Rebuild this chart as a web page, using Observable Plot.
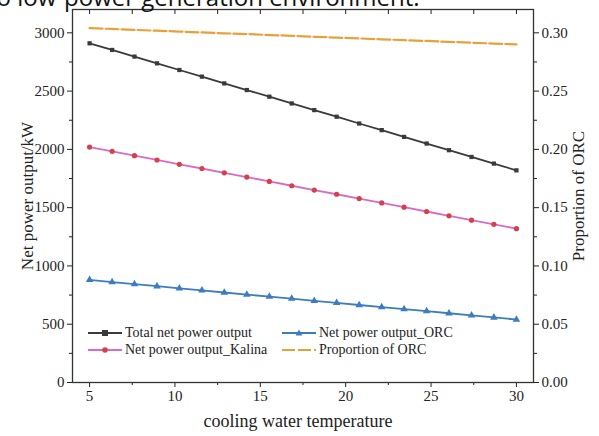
<!DOCTYPE html>
<html>
<head>
<meta charset="utf-8">
<script src="https://cdn.jsdelivr.net/npm/d3@7"></script>
<script src="https://cdn.jsdelivr.net/npm/@observablehq/plot@0.6"></script>
<style>
  html, body { margin: 0; padding: 0; background: #fff; }
  #wrap { position: relative; width: 599px; height: 436px; overflow: hidden; }
  #wrap svg text { font-family: "Liberation Serif", "Times New Roman", serif; }
  #legend { position: absolute; left: 88px; top: 325px; font-family: "Liberation Serif", serif; font-size: 14px; color: #222;
            display: grid; grid-template-columns: 194px 200px; row-gap: 0px; }
  #legend .item { display: flex; align-items: center; height: 16.5px; white-space: nowrap; }
  #legend svg { margin-right: 3px; }
  #doc { position: absolute; left: 0; top: 0; }
  #wrap #doc text { font-family: "Open Sans", sans-serif; }
</style>
</head>
<body>
<div id="wrap"></div>
<script>
// ---- data ----
const temperature = [5, 6.32, 7.63, 8.95, 10.26, 11.58, 12.89, 14.21, 15.53, 16.84, 18.16, 19.47, 20.79, 22.11, 23.42, 24.74, 26.05, 27.37, 28.68, 30];
const totalNet = [2910, 2853, 2796, 2738, 2681, 2624, 2566, 2509, 2452, 2394, 2337, 2280, 2222, 2165, 2107, 2050, 1993, 1935, 1878, 1820];
const kalinaNet = [2020, 1983, 1946, 1909, 1872, 1836, 1799, 1762, 1725, 1688, 1651, 1615, 1578, 1541, 1504, 1467, 1430, 1393, 1357, 1320];
const orcNet = [880, 862, 844, 826, 808, 790, 772, 754, 737, 719, 701, 683, 665, 647, 629, 612, 594, 576, 558, 540];
const orcProportion = [0.3040, 0.3033, 0.3025, 0.3018, 0.3011, 0.3003, 0.2996, 0.2989, 0.2981, 0.2974, 0.2966, 0.2959, 0.2952, 0.2944, 0.2937, 0.2930, 0.2922, 0.2915, 0.2908, 0.2900];

const xTicks = [5, 10, 15, 20, 25, 30];
const xMinor = [7.5, 12.5, 17.5, 22.5, 27.5];
const yTicks = [0, 500, 1000, 1500, 2000, 2500, 3000];
const yMinor = [250, 750, 1250, 1750, 2250, 2750];
const rightTicks = [0, 0.05, 0.10, 0.15, 0.20, 0.25, 0.30];
const rightMinor = [0.025, 0.075, 0.125, 0.175, 0.225, 0.275];
const seriesNames = ["Total net power output", "Net power output_ORC", "Net power output_Kalina", "Proportion of ORC"];
const xLabel = "cooling water temperature";
const yLabel = "Net power output/kW";
const y2Label = "Proportion of ORC";

const RATIO = 10000; // right axis value * RATIO = left axis units
const colors = {
  total: "#3a3a3a",
  kalinaLine: "#d86ac6",
  kalinaDot: "#d6404a",
  orc: "#3c7cc0",
  prop: "#e6a23a"
};

const rows = temperature.map((t, i) => ({
  t, total: totalNet[i], kalina: kalinaNet[i], orc: orcNet[i], prop: orcProportion[i] * RATIO
}));

const font = "Liberation Serif, Times New Roman, serif";
const axisStyle = { fontFamily: font, fontSize: 15, fontVariant: "normal" };
const titleStyle = { fontFamily: font, fill: "#222", textAnchor: "middle", lineAnchor: "middle" };

const chart = Plot.plot({
  width: 599,
  height: 436,
  marginLeft: 72,
  marginRight: 66,
  marginTop: 9,
  marginBottom: 54,
  style: { fontFamily: font, fontSize: "15px", color: "#222", background: "transparent" },
  x: { domain: [4, 31] },
  y: { domain: [0, 3200] },
  marks: [
    // axes
    Plot.axisX({ ticks: xTicks, tickSize: 5, tickPadding: 3, tickFormat: d => String(d), label: null, ...axisStyle }),
    Plot.axisX({ ticks: xMinor, tickSize: 3, tickFormat: () => "", label: null }),
    Plot.axisX({ anchor: "top", ticks: xTicks.concat(xMinor), tickSize: -4, tickFormat: () => "", label: null }),
    Plot.axisY({ ticks: yTicks, tickSize: 5, tickPadding: 3, tickFormat: d => String(d), label: null, ...axisStyle }),
    Plot.axisY({ ticks: yMinor, tickSize: 3, tickFormat: () => "", label: null }),
    Plot.axisY({ anchor: "right", ticks: rightTicks.map(v => v * RATIO), tickSize: 5, tickPadding: 3,
                 tickFormat: d => (d / RATIO).toFixed(2), label: null, ...axisStyle }),
    Plot.axisY({ anchor: "right", ticks: rightMinor.map(v => v * RATIO), tickSize: 3, tickFormat: () => "", label: null }),
    Plot.frame({ stroke: "#333", strokeWidth: 1.3 }),
    // axis titles
    Plot.text([xLabel], { frameAnchor: "bottom", text: d => d, dy: 39, dx: -5, fontSize: 18, ...titleStyle }),
    Plot.text([yLabel], { frameAnchor: "left", text: d => d, rotate: -90, dx: -45, fontSize: 17, ...titleStyle }),
    Plot.text([y2Label], { frameAnchor: "right", text: d => d, rotate: -90, dx: 45, fontSize: 17, ...titleStyle }),
    // series
    Plot.line(rows, { x: "t", y: "prop", stroke: colors.prop, strokeWidth: 2.2, strokeDasharray: "13,3" }),
    Plot.line(rows, { x: "t", y: "total", stroke: colors.total, strokeWidth: 1.8 }),
    Plot.dot(rows, { x: "t", y: "total", symbol: "square", r: 2.4, fill: colors.total }),
    Plot.line(rows, { x: "t", y: "kalina", stroke: colors.kalinaLine, strokeWidth: 1.8 }),
    Plot.dot(rows, { x: "t", y: "kalina", symbol: "circle", r: 2.6, fill: colors.kalinaDot }),
    Plot.line(rows, { x: "t", y: "orc", stroke: colors.orc, strokeWidth: 1.8 }),
    Plot.dot(rows, { x: "t", y: "orc", symbol: "triangle", r: 2.8, fill: colors.orc })
  ]
});

const wrap = document.getElementById("wrap");
wrap.appendChild(chart);

// Cropped document text visible at top of the image
const ns = "http://www.w3.org/2000/svg";
const doc = document.createElementNS(ns, "svg");
doc.setAttribute("id", "doc");
doc.setAttribute("width", "599");
doc.setAttribute("height", "12");
const dt = document.createElementNS(ns, "text");
dt.setAttribute("x", "-12");
dt.setAttribute("y", "6");
dt.setAttribute("font-size", "24");
dt.setAttribute("fill", "#111");
dt.textContent = "to low-power generation environment.";
doc.appendChild(dt);
wrap.appendChild(doc);

// Legend (inside the plot area, lower-left)
const legend = document.createElement("div");
legend.id = "legend";
const swatch = (stroke, fill, sym, dash) => {
  let s = `<svg width="34" height="10"><line x1="0" y1="5" x2="34" y2="5" stroke="${stroke}" stroke-width="1.8" ${dash ? `stroke-dasharray="${dash}"` : ""}/>`;
  if (sym === "square") s += `<rect x="14" y="2" width="6" height="6" fill="${fill}"/>`;
  if (sym === "circle") s += `<circle cx="17" cy="5" r="2.8" fill="${fill}"/>`;
  if (sym === "triangle") s += `<path d="M17,1.6L20.4,7.6L13.6,7.6Z" fill="${fill}"/>`;
  return s + "</svg>";
};
const legendItems = [
  [seriesNames[0], swatch(colors.total, colors.total, "square")],
  [seriesNames[1], swatch(colors.orc, colors.orc, "triangle")],
  [seriesNames[2], swatch(colors.kalinaLine, colors.kalinaDot, "circle")],
  [seriesNames[3], swatch(colors.prop, null, null, "13,3")]
];
legend.innerHTML = legendItems.map(([name, sw]) => `<div class="item">${sw}<span>${name}</span></div>`).join("");
wrap.appendChild(legend);
</script>
</body>
</html>
